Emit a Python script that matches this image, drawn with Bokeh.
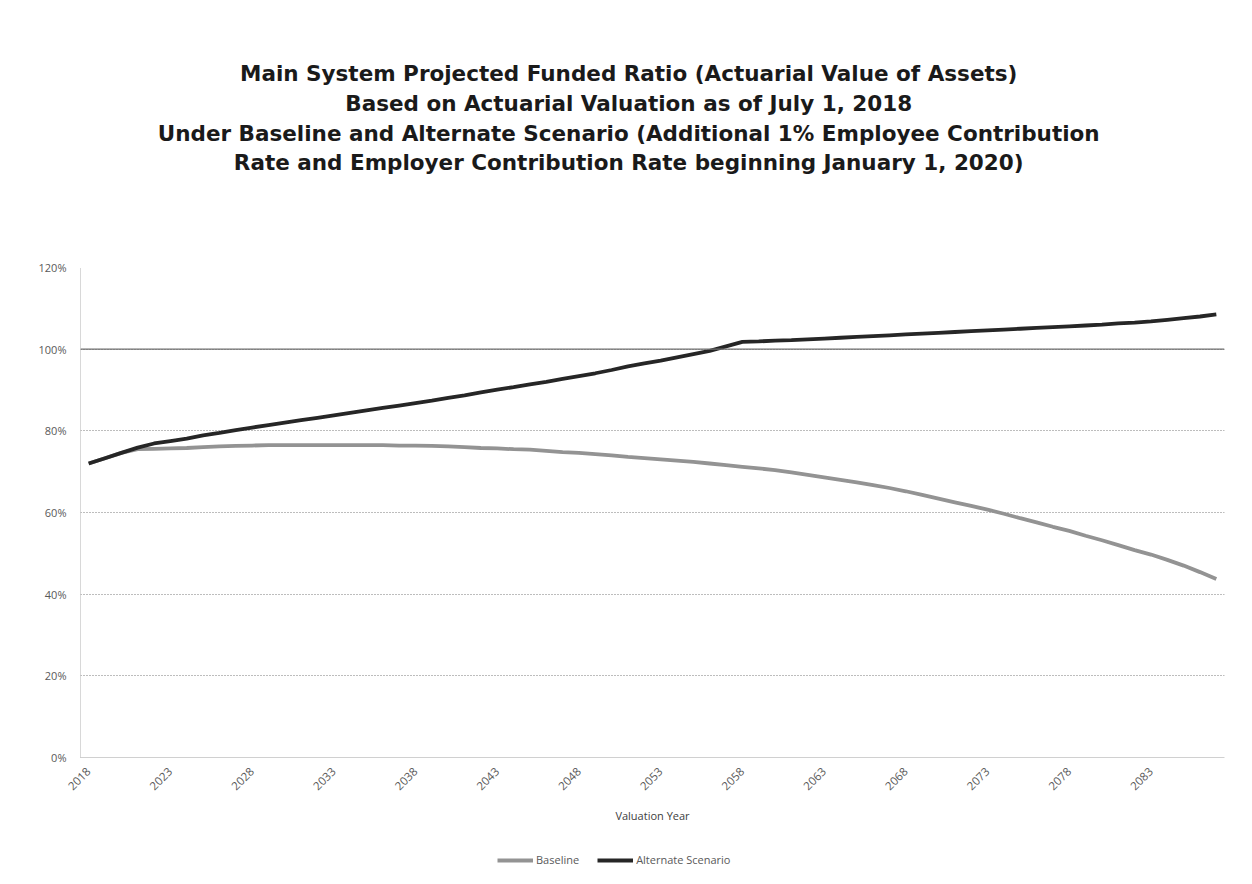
from bokeh.plotting import figure
from bokeh.layouts import column
from bokeh.models import (FixedTicker, Span, Label, Legend, LegendItem, ColumnDataSource)
from bokeh.embed import file_html
from bokeh.resources import INLINE
import math

years = list(range(2018, 2088))
baseline = [72.0, 73.3, 74.6, 75.5, 75.6, 75.7, 75.8, 76.0, 76.2, 76.3,
            76.4, 76.5, 76.5, 76.5, 76.5, 76.5, 76.5, 76.5, 76.5, 76.4,
            76.4, 76.3, 76.2, 76.0, 75.8, 75.7, 75.5, 75.4, 75.1, 74.8,
            74.6, 74.3, 74.0, 73.6, 73.3, 73.0, 72.7, 72.4, 72.0, 71.6,
            71.2, 70.8, 70.4, 69.8, 69.2, 68.6, 68.0, 67.4, 66.7, 66.0,
            65.2, 64.3, 63.4, 62.5, 61.6, 60.7, 59.7, 58.6, 57.6, 56.5,
            55.5, 54.3, 53.2, 52.0, 50.8, 49.7, 48.4, 47.0, 45.4, 43.7]
alternate = [72.0, 73.3, 74.6, 75.9, 76.9, 77.5, 78.1, 78.9, 79.5, 80.2,
             80.8, 81.4, 82.0, 82.6, 83.2, 83.8, 84.4, 85.0, 85.6, 86.2,
             86.8, 87.4, 88.1, 88.7, 89.4, 90.1, 90.7, 91.4, 92.0, 92.7,
             93.4, 94.1, 94.9, 95.8, 96.5, 97.2, 98.0, 98.8, 99.6, 100.7,
             101.8, 101.9, 102.1, 102.2, 102.4, 102.6, 102.8, 103.0, 103.2, 103.4,
             103.6, 103.8, 104.0, 104.2, 104.4, 104.6, 104.8, 105.0, 105.2, 105.4,
             105.6, 105.8, 106.0, 106.3, 106.5, 106.8, 107.2, 107.6, 108.0, 108.5]
x_ticks = list(range(2018, 2084, 5))
y_ticks = [0, 20, 40, 60, 80, 100, 120]
y_tick_labels = ["0%", "20%", "40%", "60%", "80%", "100%", "120%"]
title_lines = [
    "Main System Projected Funded Ratio (Actuarial Value of Assets)",
    "Based on Actuarial Valuation as of July 1, 2018",
    "Under Baseline and Alternate Scenario (Additional 1% Employee Contribution",
    "Rate and Employer Contribution Rate beginning January 1, 2020)",
]
series_names = ["Baseline", "Alternate Scenario"]

W = 1250
TITLE_H, MAIN_H, LEG_H = 190, 644, 50
FL, FR = 80, 1224
FONT = "Open Sans"
TFONT = "DejaVu Sans"
BASE_COLOR, ALT_COLOR = "#939393", "#262626"


def bare(height, xr, yr):
    fig = figure(width=W, height=height, output_backend="svg", toolbar_location=None,
                 x_range=xr, y_range=yr, min_border=0,
                 x_axis_location=None, y_axis_location=None,
                 background_fill_color="white", border_fill_color="white")
    fig.grid.visible = False
    fig.outline_line_color = None
    return fig


# ---- title block ----
pt = bare(TITLE_H, (0, W), (0, TITLE_H))
for line, py in zip(title_lines, [73, 103, 133, 162]):
    pt.add_layout(Label(x=599, y=TITLE_H - py, text=line, text_align="center",
                        text_baseline="middle", text_font=TFONT,
                        text_font_size="21.5px", text_font_style="bold",
                        text_color="#1a1a1a"))

# ---- main chart ----
p = figure(width=W, height=MAIN_H, output_backend="svg", toolbar_location=None,
           x_range=(years[0] - 0.5, years[-1] + 0.5), y_range=(0, 120),
           min_border_left=FL, min_border_right=W - FR,
           min_border_top=77, min_border_bottom=77,
           background_fill_color="white", border_fill_color="white")
p.outline_line_color = None

p.xaxis.ticker = FixedTicker(ticks=x_ticks)
p.xaxis.major_label_overrides = {t: str(t) for t in x_ticks}
p.xaxis.major_label_orientation = math.pi / 4
p.xaxis.major_label_text_font = FONT
p.xaxis.major_label_text_font_size = "11.5px"
p.xaxis.major_label_text_color = "#595959"
p.xaxis.major_tick_line_color = None
p.xaxis.minor_tick_line_color = None
p.xaxis.axis_line_color = "#d0d0d0"
p.xaxis.axis_label = "Valuation Year"
p.xaxis.axis_label_text_font = FONT
p.xaxis.axis_label_text_font_size = "11px"
p.xaxis.axis_label_text_font_style = "normal"
p.xaxis.axis_label_text_color = "#404040"
p.xaxis.axis_label_standoff = 11
p.xaxis.major_label_standoff = 6

p.yaxis.ticker = FixedTicker(ticks=y_ticks)
p.yaxis.major_label_overrides = dict(zip(y_ticks, y_tick_labels))
p.yaxis.major_label_text_font = FONT
p.yaxis.major_label_text_font_size = "11px"
p.yaxis.major_label_text_color = "#595959"
p.yaxis.major_tick_line_color = None
p.yaxis.minor_tick_line_color = None
p.yaxis.axis_line_color = "#b0b0b0"
p.yaxis.axis_line_dash = "1 1"
p.yaxis.major_label_standoff = 8

p.xgrid.grid_line_color = None
p.ygrid.grid_line_color = "#7a7a7a"
p.ygrid.grid_line_dash = "1 2"
p.ygrid.grid_line_width = 1

p.add_layout(Span(location=100, dimension="width", line_color="#6e6e6e", line_width=1.3))

src = ColumnDataSource(dict(year=years, base=baseline, alt=alternate))
p.line("year", "base", source=src, line_color=BASE_COLOR, line_width=3.8)
p.line("year", "alt", source=src, line_color=ALT_COLOR, line_width=3.8)

# ---- legend strip (series drawn out of view so only the legend shows) ----
pl = bare(LEG_H, (0, 1), (0, 1))
lb = pl.line("year", "base", source=src, line_color=BASE_COLOR, line_width=3.8)
la = pl.line("year", "alt", source=src, line_color=ALT_COLOR, line_width=3.8)
legend = Legend(items=[LegendItem(label=series_names[0], renderers=[lb]),
                       LegendItem(label=series_names[1], renderers=[la])],
                orientation="horizontal", location=(417, 17),
                label_text_font=FONT, label_text_font_size="11px",
                label_text_color="#595959", glyph_width=36, glyph_height=12,
                label_standoff=3, spacing=18, border_line_color=None,
                background_fill_alpha=0, padding=4, margin=0)
pl.add_layout(legend, "center")

layout = column(pt, p, pl, spacing=0)
open("out.html", "w").write(file_html(layout, INLINE))
